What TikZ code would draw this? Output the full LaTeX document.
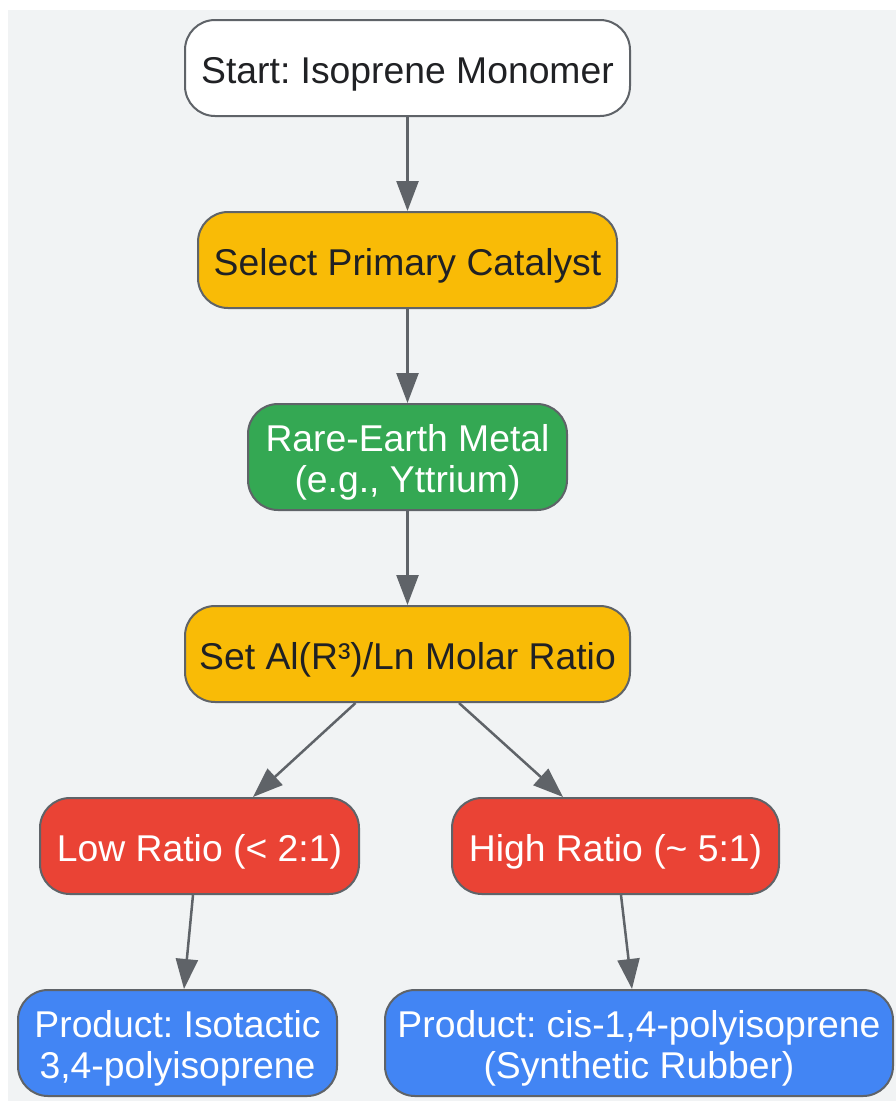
\documentclass[tikz,border=0pt]{standalone}
\usepackage{fontspec}
\setmainfont{Liberation Sans}
\usetikzlibrary{arrows.meta,calc}
\definecolor{bgc}{HTML}{F1F3F4}
\definecolor{edgec}{HTML}{5F6368}
\definecolor{txtc}{HTML}{202124}
\definecolor{ylw}{HTML}{F9BB06}
\definecolor{grn}{HTML}{34A853}
\definecolor{rdc}{HTML}{EA4335}
\definecolor{blu}{HTML}{4285F4}
\newcommand\boxtext[1]{\raisebox{-7pt}[\height][\depth]{\begin{tabular}{@{}c@{}}#1\end{tabular}}}
\tikzset{
  box/.style={draw=edgec, line width=2pt, rounded corners=30pt,
    inner sep=0pt, font=\fontsize{37.3}{41}\selectfont\frenchspacing},
  lightbox/.style={box, text=txtc},
  darkbox/.style={box, text=white},
  conn/.style={draw=edgec, line width=2.5pt, -{Triangle[width=22pt,length=30pt]}},
}
\begin{document}
\begin{tikzpicture}[x=1pt,y=-1pt]
\useasboundingbox (0,0) rectangle (896,1101);
\fill[bgc] (8,10) rectangle (896,1101);
\node[lightbox, fill=white, minimum width=445pt, minimum height=96pt] (start) at (407.5,68) {\boxtext{Start: Isoprene Monomer}};
\node[lightbox, fill=ylw, minimum width=419pt, minimum height=96pt] (sel) at (407.5,260) {\boxtext{Select Primary Catalyst}};
\node[darkbox, fill=grn, minimum width=319pt, minimum height=106pt] (rare) at (407.5,457) {\boxtext{Rare-Earth Metal\\(e.g., Yttrium)}};
\node[lightbox, fill=ylw, minimum width=445pt, minimum height=96pt] (setal) at (407.5,654) {\boxtext{Set Al(R³)/Ln Molar Ratio}};
\node[darkbox, fill=rdc, minimum width=319pt, minimum height=96pt] (low) at (199.5,846) {\boxtext{Low Ratio (< 2:1)}};
\node[darkbox, fill=rdc, minimum width=327pt, minimum height=96pt] (high) at (615.5,846) {\boxtext{High Ratio (\textasciitilde{} 5:1)}};
\node[darkbox, fill=blu, minimum width=319pt, minimum height=106pt] (iso) at (177.5,1043) {\boxtext{Product: Isotactic\\3,4-polyisoprene}};
\node[darkbox, fill=blu, minimum width=508pt, minimum height=106pt] (cis) at (639,1043) {\boxtext{Product: cis-1,4-polyisoprene\\(Synthetic Rubber)}};
\draw[conn] (start.south) -- (sel.north);
\draw[conn] (sel.south) -- (rare.north);
\draw[conn] (rare.south) -- (setal.north);
\draw[conn] ($(setal.south)+(-52,0)$) -- ($(low.north)+(53.5,0)$);
\draw[conn] ($(setal.south)+(51.5,0)$) -- ($(high.north)+(-52.5,0)$);
\draw[conn] ($(low.south)+(-6.5,0)$) -- ($(iso.north)+(6.5,0)$);
\draw[conn] ($(high.south)+(5.5,0)$) -- ($(cis.north)+(-7,0)$);
\end{tikzpicture}
\end{document}
